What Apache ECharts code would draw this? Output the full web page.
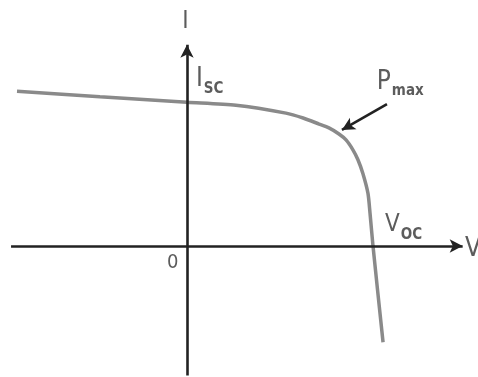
<!DOCTYPE html>
<html>
<head>
<meta charset="utf-8">
<script src="https://cdn.jsdelivr.net/npm/echarts@6/dist/echarts.min.js"></script>
<style>
html, body { margin: 0; padding: 0; background: #fff; }
#chart { width: 478px; height: 377px; }
</style>
</head>
<body>
<div id="chart"></div>
<script>
// I-V curve, units: V / Voc and I / Isc
const voltage = [-0.914, -0.468, 0, 0.263, 0.532, 0.624, 0.710, 0.763, 0.817, 0.855, 0.892, 0.919, 0.946, 0.973, 0.984, 1.0, 1.054]
const current = [1.076, 1.038, 1.0, 0.979, 0.924, 0.890, 0.848, 0.821, 0.779, 0.738, 0.669, 0.600, 0.503, 0.366, 0.228, 0, -0.669]

// axis extents drawn as arrows
const vAxisSpan = [-0.946, 1.482]
const iAxisSpan = [-0.9, 1.40]

// Pmax pointer: tail -> tip
const pointerTail = [1.075, 0.986]
const pointerTip = [0.833, 0.807]

// text labels: main letter, subscript, anchor (top-left)
const labelMain = ['I', 'I', 'P', 'V', 'V', '0']
const labelSub = ['', 'SC', 'max', 'OC', '', '']
const labelV = [-0.025, 0.048, 1.02, 1.065, 1.495, -0.108]
const labelI = [1.64, 1.25, 1.23, 0.23, 0.065, -0.045]
const labelSize = [24, 26, 26, 24, 26, 20]

const FONT = '"DejaVu Sans Condensed", "Liberation Sans Narrow", "Liberation Sans", Arial, sans-serif'
const AXIS_COLOR = '#222'
const CURVE_COLOR = '#8a8a8a'

const chart = echarts.init(document.getElementById('chart'), null, { renderer: 'canvas' })

const curveData = voltage.map((v, i) => [v, current[i]])
const labelData = labelMain.map((m, i) => ({
    value: [labelV[i], labelI[i]],
    label: {
        formatter: labelSub[i] ? `{m|${m}}{s|${labelSub[i]}}` : `{m|${m}}`,
        rich: {
            m: { fontSize: labelSize[i], fontFamily: FONT, color: '#333', lineHeight: 30, verticalAlign: 'top' },
            s: { fontSize: 15, fontFamily: FONT, color: '#333', fontWeight: 'bold', lineHeight: 30, verticalAlign: 'bottom', padding: [0, 0, 0, 1] },
        },
    },
}))

chart.setOption({
    animation: false,
    backgroundColor: '#fff',
    grid: { left: 1, right: 12, top: 1.5, bottom: 1.5 },
    xAxis: { type: 'value', min: -1, max: 1.5, show: false },
    yAxis: { type: 'value', min: -0.9, max: 1.7, show: false },
    series: [
        {
            type: 'line',
            data: [],
            silent: true,
            markLine: {
                silent: true,
                animation: false,
                symbol: ['none', 'arrow'],
                symbolSize: [10, 13],
                label: { show: false },
                lineStyle: { color: AXIS_COLOR, width: 2.6, type: 'solid' },
                data: [
                    [{ coord: [vAxisSpan[0], 0] }, { coord: [vAxisSpan[1], 0] }],
                    [{ coord: [0, iAxisSpan[0]] }, { coord: [0, iAxisSpan[1]] }],
                    [{ coord: pointerTail }, { coord: pointerTip }],
                ],
            },
        },
        {
            type: 'line',
            data: curveData,
            smooth: 0.25,
            symbol: 'none',
            clip: false,
            lineStyle: { color: CURVE_COLOR, width: 3.5 },
        },
        {
            type: 'scatter',
            data: labelData,
            symbolSize: 0,
            clip: false,
            silent: true,
            label: { show: true, position: [0, 0], align: 'left', verticalAlign: 'top' },
        },
    ],
})
</script>
</body>
</html>
